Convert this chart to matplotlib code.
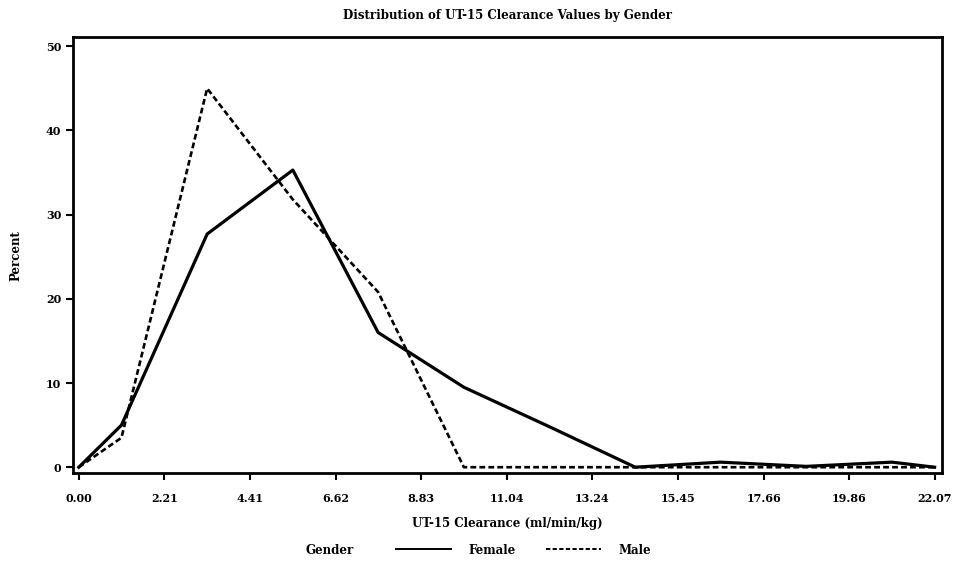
import matplotlib
matplotlib.use('Agg')
import matplotlib.pyplot as plt
import numpy as np

# bin midpoints (plus the two end points) of UT-15 clearance
clearance = [0.00, 1.10, 3.31, 5.52, 7.72, 9.93, 12.14, 14.35, 16.55, 18.76, 20.97, 22.07]
female_pct = [0.0, 5.0, 27.7, 35.3, 16.0, 9.5, 4.8, 0.0, 0.6, 0.1, 0.6, 0.0]
male_pct = [0.0, 3.5, 45.0, 31.8, 20.8, 0.0, 0.0, 0.0, 0.0, 0.0, 0.0, 0.0]

x_ticks = [0.00, 2.21, 4.41, 6.62, 8.83, 11.04, 13.24, 15.45, 17.66, 19.86, 22.07]
y_ticks = [0, 10, 20, 30, 40, 50]

plt.rcParams['font.family'] = ['DejaVu Serif']
plt.rcParams['font.weight'] = 'bold'

fig = plt.figure(figsize=(9.54, 5.70), dpi=100)
ax = fig.add_axes([0.0765, 0.170, 0.9105, 0.765])

ax.plot(clearance, female_pct, color='black', lw=2.3, ls='-', label='Female')
ax.plot(clearance, male_pct, color='black', lw=1.9, ls=(0, (2.2, 1.2)), label='Male')

ax.set_xlim(-0.15, 22.25)
ax.set_ylim(-0.7, 51.1)
ax.set_xticks(x_ticks)
ax.set_xticklabels([f'{v:.2f}' for v in x_ticks])
ax.set_yticks(y_ticks)
ax.tick_params(direction='out', length=5, width=1.5, labelsize=8)
ax.tick_params(axis='x', pad=9)
for s in ax.spines.values():
    s.set_linewidth(2)

ax.set_title('Distribution of UT-15 Clearance Values by Gender', fontsize=8.5,
             fontweight='bold', pad=13)
ax.set_xlabel('UT-15 Clearance (ml/min/kg)', fontsize=8.5, fontweight='bold', labelpad=10)
ax.set_ylabel('Percent', fontsize=8.5, fontweight='bold', labelpad=17)

fig.text(0.346, 0.035, 'Gender', fontsize=8.5, fontweight='bold', ha='center', va='center')
leg = fig.legend(loc='center', bbox_to_anchor=(0.549, 0.035), ncol=2, frameon=False,
                 fontsize=8.5, handlelength=4.6, columnspacing=2.6, handletextpad=1.5)
for h in leg.get_lines():
    h.set_linewidth(1.4)

fig.savefig('out.png', dpi=100)
